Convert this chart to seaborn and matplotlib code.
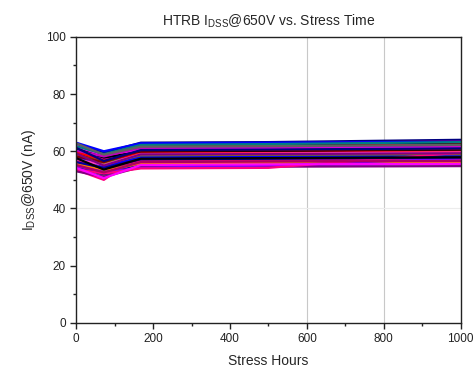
import matplotlib
matplotlib.use('Agg')
import matplotlib.pyplot as plt
from matplotlib.ticker import MultipleLocator
import seaborn as sns
import pandas as pd

# readout points (hours)
hours = [0, 72, 168, 500, 1000]

# IDSS @650V (nA), one row per device
idss_na = [
    [62.5, 59.5, 63.0, 63.2, 64.0],
    [61.0, 58.5, 62.5, 62.8, 63.5],
    [60.5, 57.0, 62.0, 62.3, 63.0],
    [59.0, 56.5, 61.8, 62.0, 62.8],
    [58.0, 55.0, 61.5, 61.7, 62.3],
    [57.5, 54.0, 61.0, 61.2, 61.8],
    [63.0, 60.0, 62.8, 63.0, 63.3],
    [56.0, 53.5, 60.5, 60.8, 61.5],
    [55.0, 52.0, 60.0, 60.2, 60.8],
    [54.0, 51.0, 59.5, 59.6, 60.0],
    [53.5, 50.0, 58.8, 59.0, 59.5],
    [60.0, 56.0, 58.5, 58.6, 59.0],
    [61.5, 57.5, 58.0, 58.2, 58.5],
    [59.5, 55.5, 57.5, 57.6, 58.0],
    [58.5, 54.5, 57.0, 57.2, 57.5],
    [57.0, 53.0, 56.5, 56.6, 57.0],
    [56.5, 52.5, 56.0, 56.2, 56.5],
    [55.5, 51.5, 55.5, 55.6, 55.8],
    [54.5, 52.0, 55.0, 55.2, 55.5],
    [53.0, 51.0, 54.5, 54.6, 54.8],
    [62.0, 58.0, 60.8, 61.0, 61.5],
    [60.8, 57.8, 59.8, 60.0, 60.5],
    [59.8, 56.8, 59.2, 59.4, 59.8],
    [58.8, 55.8, 58.2, 58.4, 58.8],
    [57.8, 54.8, 57.8, 58.0, 58.2],
    [56.8, 53.8, 56.8, 57.0, 57.2],
    [55.8, 53.2, 55.8, 56.0, 56.2],
    [54.8, 52.8, 54.2, 55.0, 57.5],
    [53.8, 52.2, 54.0, 54.2, 59.5],
    [61.8, 59.0, 62.2, 62.5, 63.2],
    [60.2, 58.2, 61.2, 61.5, 62.0],
    [58.2, 56.2, 60.2, 60.4, 60.8],
    [57.2, 55.2, 59.0, 59.2, 59.6],
    [56.2, 54.2, 57.2, 57.4, 57.8],
    [55.2, 52.6, 56.2, 56.4, 56.6],
    [62.8, 58.8, 61.6, 61.8, 62.2],
    [61.2, 56.6, 60.4, 60.6, 61.0],
    [59.2, 55.0, 58.9, 59.0, 59.3],
    [54.2, 50.6, 55.2, 55.4, 55.6],
    [57.6, 53.6, 57.4, 57.6, 57.9],
]

# Origin-like colour cycle
colors = ['#000080', '#800080', '#FF00FF', '#000000', '#FF0000', '#808000',
          '#0000FF', '#E00070', '#FF8000', '#8000FF', '#FF0080', '#008080',
          '#C000C0', '#800000', '#FF40C0', '#0000A0', '#B00060', '#606060']

grid_hours = [600, 800]
grid_idss = [40]

rows = []
for dev, vals in enumerate(idss_na):
    for h, v in zip(hours, vals):
        rows.append({'dev': dev, 'hours': h, 'idss': v})
df = pd.DataFrame(rows)

sns.set_style('ticks')
plt.rcParams['font.family'] = ['Liberation Sans', 'DejaVu Sans']
plt.rcParams['mathtext.default'] = 'regular'

fig = plt.figure(figsize=(4.76, 3.72), dpi=100)
ax = fig.add_axes([0.160, 0.132, 0.808, 0.769])

for g in grid_hours:
    ax.axvline(g, color='#c8c8c8', lw=0.8, zorder=0)
for g in grid_idss:
    ax.axhline(g, color='#ececec', lw=0.8, zorder=0)

pal = [colors[i % len(colors)] for i in range(len(idss_na))]
sns.lineplot(data=df, x='hours', y='idss', hue='dev', palette=pal,
             units='dev', estimator=None, sort=False, lw=1.6,
             legend=False, ax=ax)

ax.set_xlim(0, 1000)
ax.set_ylim(0, 100)
ax.xaxis.set_major_locator(MultipleLocator(200))
ax.xaxis.set_minor_locator(MultipleLocator(100))
ax.yaxis.set_major_locator(MultipleLocator(20))
ax.yaxis.set_minor_locator(MultipleLocator(10))
ax.tick_params(which='major', direction='out', length=4, width=1, labelsize=8.5, colors='#222222')
ax.tick_params(which='minor', direction='out', length=2.5, width=1, colors='#222222')
for sp in ax.spines.values():
    sp.set_color('#222222')
    sp.set_linewidth(1.0)

ax.set_xlabel('Stress Hours', fontsize=10, labelpad=6)
ax.set_ylabel('I$_{DSS}$@650V (nA)', fontsize=10, labelpad=6)
ax.set_title('HTRB I$_{DSS}$@650V vs. Stress Time', fontsize=10, pad=8)

fig.savefig('out.png', dpi=100)
